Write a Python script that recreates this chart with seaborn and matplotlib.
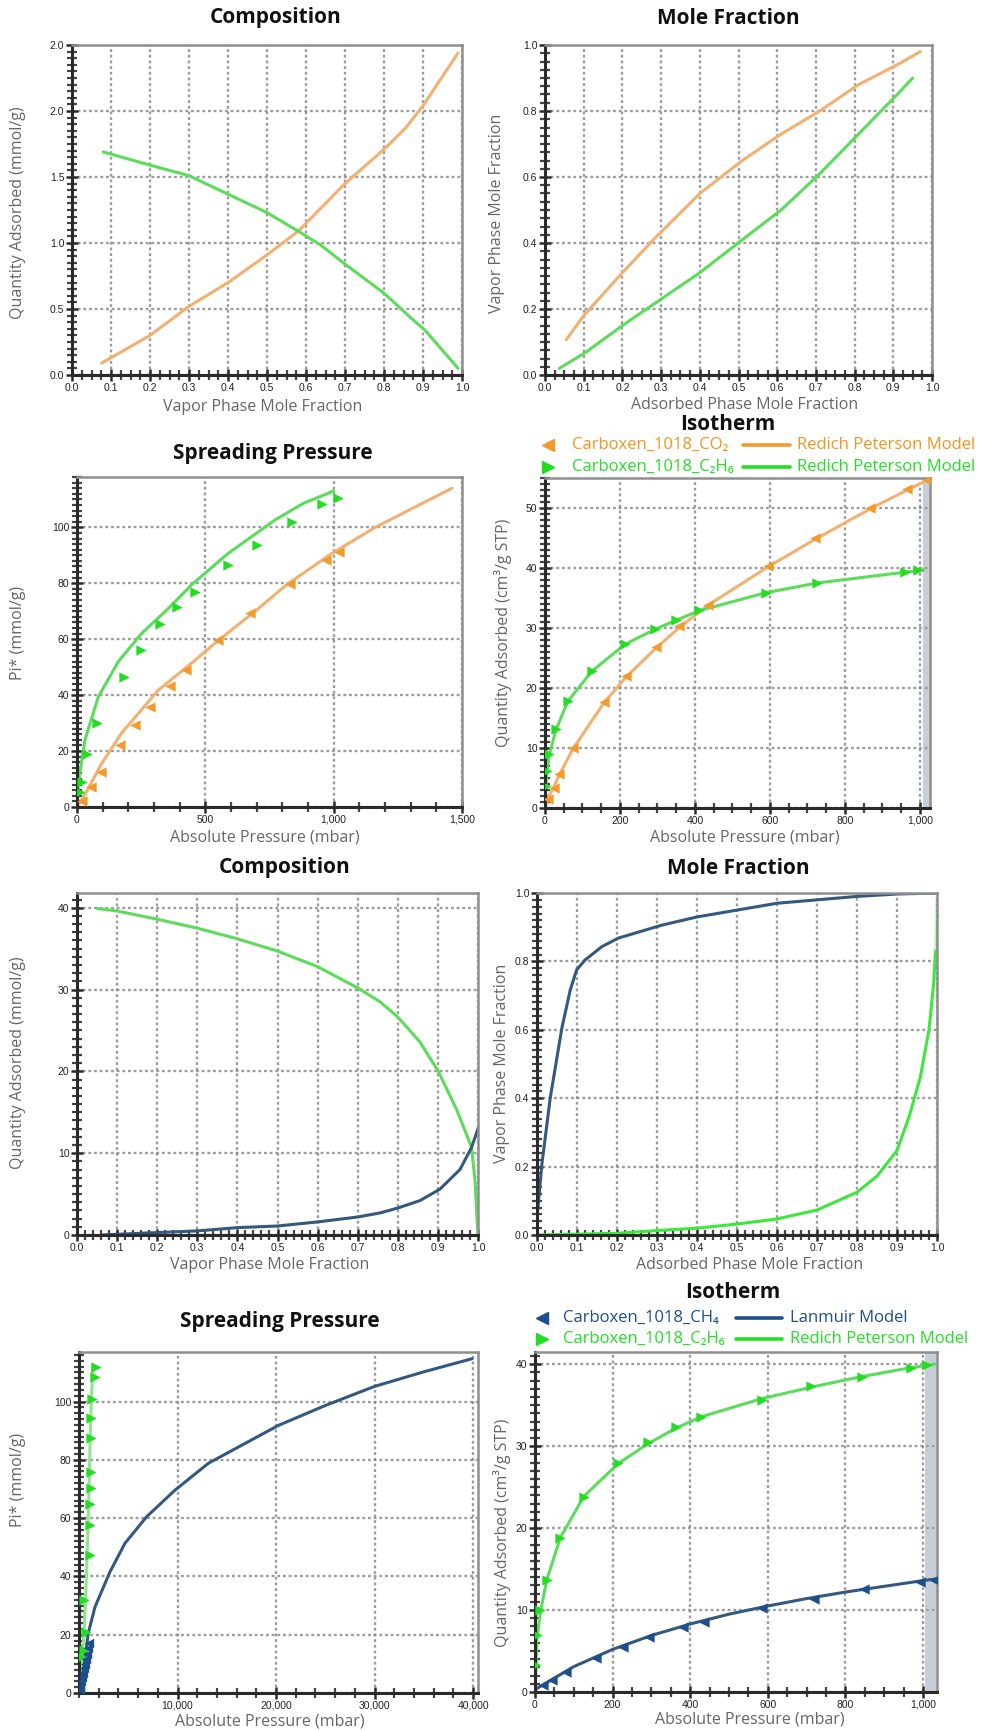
import numpy as np
import matplotlib
matplotlib.use("Agg")
import matplotlib.pyplot as plt
from matplotlib.ticker import AutoMinorLocator, FuncFormatter
import seaborn as sns

# ---- data ----
# panel 1: composition CO2 / C2H6
comp1_x_co2 = [0.076, 0.2, 0.3, 0.4, 0.5, 0.58, 0.64, 0.70, 0.80, 0.855, 0.90, 0.99]
comp1_y_co2 = [0.09, 0.30, 0.52, 0.70, 0.91, 1.09, 1.27, 1.45, 1.71, 1.87, 2.04, 2.44]
comp1_x_c2h6 = [0.08, 0.2, 0.3, 0.4, 0.5, 0.58, 0.64, 0.70, 0.80, 0.87, 0.905, 0.99]
comp1_y_c2h6 = [1.69, 1.59, 1.51, 1.37, 1.23, 1.09, 0.98, 0.84, 0.62, 0.43, 0.34, 0.05]
comp1_yticks = [0, 0.5, 1.0, 1.5, 2.0, 2.5]
comp1_ylabels = ["0.0", "0.5", "1.0", "1.5", "2.0", "2.0"]

# panel 2: mole fraction CO2 / C2H6
mf1_x_co2 = [0.055, 0.10, 0.20, 0.28, 0.40, 0.51, 0.61, 0.71, 0.81, 0.91, 0.97]
mf1_y_co2 = [0.107, 0.18, 0.31, 0.41, 0.55, 0.65, 0.73, 0.80, 0.88, 0.94, 0.98]
mf1_x_c2h6 = [0.037, 0.107, 0.20, 0.30, 0.40, 0.51, 0.61, 0.71, 0.81, 0.91, 0.95]
mf1_y_c2h6 = [0.02, 0.07, 0.15, 0.23, 0.31, 0.41, 0.50, 0.61, 0.73, 0.85, 0.90]

# panel 3: spreading pressure CO2 / C2H6
sp1_pts_x_c2h6 = [10, 21, 39, 78, 183, 251, 325, 388, 460, 589, 702, 836, 953, 1015]
sp1_pts_y_c2h6 = [5.4, 9, 18.8, 29.9, 46.4, 56.2, 65.5, 71.4, 76.8, 86.6, 93.8, 101.8, 108.5, 110.5]
sp1_fit_x_c2h6 = [0, 5, 31, 83, 161, 252, 356, 447, 589, 771, 880, 1000]
sp1_fit_y_c2h6 = [0, 8.5, 24.0, 39.4, 52.0, 62.1, 71.0, 79.5, 90.7, 102.6, 108.5, 113]
sp1_pts_x_co2 = [21, 56, 95, 167, 226, 286, 362, 424, 550, 674, 830, 970, 1022]
sp1_pts_y_co2 = [2, 7.2, 12.5, 22.3, 29.3, 35.8, 43.2, 49, 59.7, 69.5, 79.8, 88.4, 91.2]
sp1_fit_x_co2 = [0, 31, 96, 174, 317, 447, 550, 694, 817, 990, 1162, 1461]
sp1_fit_y_co2 = [0, 4.5, 15.5, 26.5, 41.8, 51.5, 59.5, 70.0, 79.5, 90.5, 100, 114]

# panel 4: isotherm CO2 / C2H6
iso1_pts_x_co2 = [7, 23, 38, 74, 157, 216, 297, 357, 435, 595, 721, 866, 966, 1018]
iso1_pts_y_co2 = [1.5, 3.3, 5.7, 10, 17.7, 22, 26.9, 30.3, 33.8, 40.4, 45, 50, 53.2, 54.6]
iso1_fit_x_co2 = [0, 7, 23, 38, 74, 157, 216, 297, 357, 435, 595, 721, 866, 966, 1025]
iso1_fit_y_co2 = [0, 1.6, 3.4, 5.5, 9.8, 17.5, 21.8, 26.7, 30.0, 33.8, 40.2, 44.8, 49.8, 53.0, 54.8]
iso1_pts_x_c2h6 = [2, 5, 12, 29, 61, 125, 214, 294, 350, 412, 590, 726, 960, 996]
iso1_pts_y_c2h6 = [3.7, 6.2, 9, 13.2, 17.9, 22.8, 27.4, 29.9, 31.4, 33, 35.8, 37.5, 39.3, 39.6]
iso1_fit_x_c2h6 = [0, 2, 5, 12, 29, 61, 125, 214, 294, 350, 412, 590, 726, 960, 1010]
iso1_fit_y_c2h6 = [0, 3.6, 6.0, 9.0, 13.0, 17.8, 22.8, 27.3, 29.8, 31.3, 32.9, 35.9, 37.5, 39.3, 39.7]

# panel 5: composition CH4 / C2H6
comp2_x_c2h6 = [0.05, 0.1, 0.2, 0.3, 0.4, 0.5, 0.6, 0.7, 0.756, 0.801, 0.855, 0.901,
                0.947, 0.984, 0.993, 0.997, 1.0]
comp2_y_c2h6 = [39.9, 39.6, 38.6, 37.5, 36.2, 34.7, 32.8, 30.2, 28.5, 26.6, 23.6, 20.0,
                15.3, 10.7, 6.4, 2.5, 0.1]
comp2_x_ch4 = [0.06, 0.2, 0.3, 0.4, 0.5, 0.6, 0.7, 0.756, 0.8, 0.855, 0.905, 0.955, 0.984, 1.0]
comp2_y_ch4 = [0.0, 0.3, 0.5, 0.9, 1.1, 1.6, 2.2, 2.7, 3.3, 4.2, 5.6, 8.0, 10.7, 13.0]

# panel 6: mole fraction CH4 / C2H6
mf2_x_ch4 = [0.0, 0.012, 0.033, 0.062, 0.083, 0.099, 0.12, 0.162, 0.203, 0.312, 0.4,
             0.5, 0.6, 0.7, 0.8, 0.9, 1.0]
mf2_y_ch4 = [0.05, 0.205, 0.40, 0.604, 0.716, 0.775, 0.804, 0.843, 0.868, 0.906, 0.93,
             0.95, 0.97, 0.98, 0.99, 0.997, 1.0]
mf2_x_c2h6 = [0.0, 0.2, 0.3, 0.4, 0.5, 0.6, 0.7, 0.8, 0.85, 0.9, 0.93, 0.958, 0.98, 0.992, 0.996]
mf2_y_c2h6 = [0.0, 0.005, 0.013, 0.02, 0.032, 0.047, 0.073, 0.125, 0.172, 0.247, 0.345, 0.46, 0.6, 0.74, 0.83]
mf2_tail_x_c2h6 = [0.996, 0.999, 1.0]
mf2_tail_y_c2h6 = [0.83, 0.92, 0.98]

# panel 7: spreading pressure CH4 / C2H6
sp2_fit_x_ch4 = [0, 270, 945, 1620, 3150, 4670, 6870, 9745, 13125, 16510, 20230, 24970,
                 30000, 35000, 39900]
sp2_fit_y_ch4 = [0, 3.4, 20.6, 29.5, 41.6, 51.4, 60.5, 69.6, 78.8, 85, 91.8, 98.6,
                 105.2, 110.2, 114.7]
sp2_pts_x_ch4 = [60, 150, 250, 350, 450, 550, 650, 750, 850, 950, 1050]
sp2_pts_y_ch4 = [1, 2.5, 4, 5.5, 7, 8.5, 10, 11.5, 13.5, 15.5, 17]
sp2_pts_x_c2h6 = [340, 500, 670, 500, 1080, 1080, 1080, 1180, 1180, 1180, 1180, 1350, 1620, 1680]
sp2_pts_y_c2h6 = [12.3, 14.6, 20.9, 31.8, 47.2, 57.8, 64.7, 70.4, 75.7, 87.6, 94.5, 100.9, 108.4, 111.8]
sp2_fit_x_c2h6 = [0, 250, 500, 700, 900, 1050, 1150, 1250, 1400]
sp2_fit_y_c2h6 = [0, 10, 20, 35, 55, 75, 90, 100, 112]

# panel 8: isotherm CH4 / C2H6
iso2_pts_x_c2h6 = [3, 5, 14, 31, 65, 126, 215, 291, 363, 429, 584, 711, 842, 970, 1010]
iso2_pts_y_c2h6 = [3.3, 6.9, 10, 13.7, 18.8, 23.8, 28, 30.5, 32.4, 33.6, 35.7, 37.3, 38.5, 39.6, 39.9]
iso2_fit_x_c2h6 = [0, 3, 5, 14, 31, 65, 126, 215, 291, 363, 429, 584, 711, 842, 970, 1030]
iso2_fit_y_c2h6 = [0, 3.2, 6.5, 9.8, 13.8, 18.8, 23.9, 27.9, 30.3, 32.2, 33.6, 35.8, 37.2, 38.5, 39.6, 40.0]
iso2_pts_x_ch4 = [20, 43, 80, 158, 226, 295, 382, 436, 584, 718, 847, 993, 1028]
iso2_pts_y_ch4 = [0.8, 1.5, 2.5, 4.2, 5.5, 6.7, 7.9, 8.6, 10.2, 11.4, 12.6, 13.4, 13.7]
iso2_fit_x_ch4 = [0, 100, 200, 300, 400, 500, 600, 700, 800, 900, 1000, 1034]
iso2_fit_y_ch4 = [0.3, 3.1, 5.2, 6.9, 8.3, 9.5, 10.5, 11.4, 12.2, 12.9, 13.6, 13.8]

# ---- style ----
ORANGE_LINE = "#f2b071"
ORANGE_PT = "#f39a2c"
ORANGE_TXT = "#f7941d"
GREEN_LINE = "#5bdc5b"
GREEN_PT = "#22dd22"
GREEN_TXT = "#22e022"
BLUE_LINE = "#34597f"
BLUE_PT = "#1f4e8c"
BLUE_TXT = "#1f4e8c"

sns.set_theme(style="white")
plt.rcParams["font.family"] = ["Open Sans", "DejaVu Sans"]

W, H = 990, 1730
fig = plt.figure(figsize=(W / 100, H / 100), dpi=100)


def rect(l, r, t, b):
    return [l / W, 1 - b / H, (r - l) / W, (b - t) / H]


def ftext(x, y, s, **kw):
    fig.text(x / W, 1 - y / H, s, **kw)


def base_axes(l, r, t, b, xlim, ylim, xticks, yticks, xminor=5, yminor=5):
    ax = fig.add_axes(rect(l, r, t, b))
    ax.set_xlim(*xlim)
    ax.set_ylim(*ylim)
    ax.set_xticks(xticks)
    ax.set_yticks(yticks)
    ax.xaxis.set_minor_locator(AutoMinorLocator(xminor))
    ax.yaxis.set_minor_locator(AutoMinorLocator(yminor))
    ax.grid(True, which="major", color="#858585", linestyle=(0, (1.2, 1.2)),
            linewidth=1.7, alpha=0.8)
    ax.set_axisbelow(True)
    for s in ["left", "bottom"]:
        ax.spines[s].set_color("#2a2a2a")
        ax.spines[s].set_linewidth(2.2)
    for s in ["top", "right"]:
        ax.spines[s].set_color("#8f8f8f")
        ax.spines[s].set_linewidth(1.8)
    ax.tick_params(which="both", left=True, bottom=True, top=False, right=False)
    ax.tick_params(which="major", direction="inout", length=9, width=1.8,
                   color="#2a2a2a", pad=1, labelsize=7.5, labelcolor="#222")
    ax.tick_params(which="minor", direction="inout", length=7, width=1.6,
                   color="#444444")
    for lab in ax.get_xticklabels() + ax.get_yticklabels():
        lab.set_fontfamily(["Liberation Sans", "DejaVu Sans"])
    return ax


def labels(title, tpos, xlabel, xpos, ylabel, ypos):
    ftext(tpos[0], tpos[1], title, ha="center", va="center", fontsize=15,
          fontweight="bold", color="#111")
    ftext(xpos[0], xpos[1], xlabel, ha="center", va="center", fontsize=11.5,
          color="#666")
    ftext(ypos[0], ypos[1], ylabel, ha="center", va="center", fontsize=11.5,
          color="#666", rotation=90)


def curve(ax, x, y, color, lw=2.2, alpha=1.0):
    sns.lineplot(x=x, y=y, ax=ax, color=color, linewidth=lw, sort=False,
                 estimator=None, alpha=alpha, legend=False,
                 solid_joinstyle="round", solid_capstyle="round")


def points(ax, x, y, color, marker, size=55):
    sns.scatterplot(x=x, y=y, ax=ax, color=color, marker=marker, s=size,
                    linewidth=0, legend=False, zorder=5)


def legend_rows(rows):
    # manual two-column legend: marker + name, line + model name
    for (y, marker, mcolor, name, lcolor, model, tcolor, mx, tx, l0, l1, mtx) in rows:
        fig.add_artist(plt.Line2D([mx / W], [1 - y / H], marker=marker, color=mcolor,
                                  markersize=9, linestyle="none"))
        ftext(tx, y, name, ha="left", va="center", fontsize=12, color=tcolor)
        fig.add_artist(plt.Line2D([l0 / W, l1 / W], [1 - y / H, 1 - y / H],
                                  color=lcolor, linewidth=2.6))
        ftext(mtx, y, model, ha="left", va="center", fontsize=12, color=tcolor)


comma = FuncFormatter(lambda v, p: f"{int(v):,}")
frac = FuncFormatter(lambda v, p: f"{v:.1f}")

# ---- panel 1 ----
ax1 = base_axes(72, 462, 45, 375, (0, 1), (0, 2.5), np.arange(0, 1.01, 0.1),
                comp1_yticks, xminor=4, yminor=10)
ax1.set_yticklabels(comp1_ylabels)
ax1.xaxis.set_major_formatter(frac)
curve(ax1, comp1_x_co2, comp1_y_co2, ORANGE_LINE)
curve(ax1, comp1_x_c2h6, comp1_y_c2h6, GREEN_LINE)
labels("Composition", (276, 18), "Vapor Phase Mole Fraction", (263, 407),
       "Quantity Adsorbed (mmol/g)", (18, 213))

# ---- panel 2 ----
ax2 = base_axes(545, 932, 45, 375, (0, 1), (0, 1), np.arange(0, 1.01, 0.1),
                np.arange(0, 1.01, 0.2), xminor=4, yminor=8)
ax2.xaxis.set_major_formatter(frac)
ax2.yaxis.set_major_formatter(frac)
curve(ax2, mf1_x_co2, mf1_y_co2, ORANGE_LINE)
curve(ax2, mf1_x_c2h6, mf1_y_c2h6, GREEN_LINE)
labels("Mole Fraction", (728, 18), "Adsorbed Phase Mole Fraction", (745, 405),
       "Vapor Phase Mole Fraction", (497, 213))

# ---- panel 3 ----
ax3 = base_axes(77, 462, 477, 807, (0, 1500), (0, 118), [0, 500, 1000, 1500],
                [0, 20, 40, 60, 80, 100], xminor=5, yminor=10)
ax3.xaxis.set_major_formatter(comma)
curve(ax3, sp1_fit_x_c2h6, sp1_fit_y_c2h6, GREEN_LINE)
curve(ax3, sp1_fit_x_co2, sp1_fit_y_co2, ORANGE_LINE)
points(ax3, sp1_pts_x_c2h6, sp1_pts_y_c2h6, GREEN_PT, ">")
points(ax3, sp1_pts_x_co2, sp1_pts_y_co2, ORANGE_PT, "<")
labels("Spreading Pressure", (273, 453), "Absolute Pressure (mbar)", (265, 838),
       "Pi* (mmol/g)", (18, 633))

# ---- panel 4 ----
ax4 = base_axes(545, 930, 478, 808, (0, 1027), (0, 55), np.arange(0, 1001, 200),
                [0, 10, 20, 30, 40, 50], xminor=4, yminor=10)
ax4.xaxis.set_major_formatter(comma)
ax4.axvspan(1009, 1027, color="#9ba6b6", alpha=0.55, lw=0)
curve(ax4, iso1_fit_x_co2, iso1_fit_y_co2, ORANGE_LINE)
curve(ax4, iso1_fit_x_c2h6, iso1_fit_y_c2h6, GREEN_LINE)
points(ax4, iso1_pts_x_co2, iso1_pts_y_co2, ORANGE_PT, "<")
points(ax4, iso1_pts_x_c2h6, iso1_pts_y_c2h6, GREEN_PT, ">")
labels("Isotherm", (728, 425), "Absolute Pressure (mbar)", (745, 838),
       "Quantity Adsorbed (cm³/g STP)", (503, 633))
legend_rows([
    (445, "<", ORANGE_PT, "Carboxen_1018_CO₂", ORANGE_PT, "Redich Peterson Model",
     ORANGE_TXT, 548, 572, 743, 790, 797),
    (467, ">", GREEN_PT, "Carboxen_1018_C₂H₆", "#22e022", "Redich Peterson Model",
     GREEN_TXT, 548, 572, 743, 790, 797),
])

# ---- panel 5 ----
ax5 = base_axes(77, 478, 893, 1235, (0, 1), (0, 41.8), np.arange(0, 1.01, 0.1),
                [0, 10, 20, 30, 40], xminor=5, yminor=10)
ax5.xaxis.set_major_formatter(frac)
curve(ax5, comp2_x_c2h6, comp2_y_c2h6, GREEN_LINE)
curve(ax5, comp2_x_ch4, comp2_y_ch4, BLUE_LINE)
labels("Composition", (285, 868), "Vapor Phase Mole Fraction", (270, 1265),
       "Quantity Adsorbed (mmol/g)", (18, 1063))

# ---- panel 6 ----
ax6 = base_axes(537, 937, 893, 1235, (0, 1), (0, 1), np.arange(0, 1.01, 0.1),
                np.arange(0, 1.01, 0.2), xminor=5, yminor=10)
ax6.xaxis.set_major_formatter(frac)
ax6.yaxis.set_major_formatter(frac)
curve(ax6, mf2_x_ch4, mf2_y_ch4, BLUE_LINE)
curve(ax6, mf2_x_c2h6, mf2_y_c2h6, "#3de83d")
curve(ax6, mf2_tail_x_c2h6, mf2_tail_y_c2h6, "#3de83d", alpha=0.3)
labels("Mole Fraction", (738, 868), "Adsorbed Phase Mole Fraction", (750, 1265),
       "Vapor Phase Mole Fraction", (502, 1063))

# ---- panel 7 ----
ax7 = base_axes(79, 478, 1352, 1693, (0, 40500), (0, 117), [10000, 20000, 30000, 40000],
                [0, 20, 40, 60, 80, 100], xminor=5, yminor=10)
ax7.xaxis.set_major_formatter(comma)
curve(ax7, sp2_fit_x_c2h6, sp2_fit_y_c2h6, "#8fe68f")
points(ax7, sp2_pts_x_c2h6, sp2_pts_y_c2h6, GREEN_PT, ">")
curve(ax7, sp2_fit_x_ch4, sp2_fit_y_ch4, BLUE_LINE)
points(ax7, sp2_pts_x_ch4, sp2_pts_y_ch4, BLUE_PT, "<", size=45)
ax7.text(0.012, 0.065, "0", transform=ax7.transAxes, fontsize=7.5,
         family=["Liberation Sans", "DejaVu Sans"], color="#222")
labels("Spreading Pressure", (280, 1322), "Absolute Pressure (mbar)", (270, 1722),
       "Pi* (mmol/g)", (18, 1480))

# ---- panel 8 ----
ax8 = base_axes(535, 937, 1352, 1692, (0, 1036), (0, 41.5), np.arange(0, 1001, 200),
                [0, 10, 20, 30, 40], xminor=4, yminor=10)
ax8.xaxis.set_major_formatter(comma)
ax8.axvspan(1006, 1036, color="#9ba6b6", alpha=0.55, lw=0)
curve(ax8, iso2_fit_x_c2h6, iso2_fit_y_c2h6, GREEN_LINE)
curve(ax8, iso2_fit_x_ch4, iso2_fit_y_ch4, BLUE_LINE)
points(ax8, iso2_pts_x_c2h6, iso2_pts_y_c2h6, GREEN_PT, ">")
points(ax8, iso2_pts_x_ch4, iso2_pts_y_ch4, BLUE_PT, "<")
labels("Isotherm", (733, 1293), "Absolute Pressure (mbar)", (750, 1720),
       "Quantity Adsorbed (cm³/g STP)", (502, 1533))
legend_rows([
    (1318, "<", BLUE_PT, "Carboxen_1018_CH₄", BLUE_PT, "Lanmuir Model",
     BLUE_TXT, 542, 563, 736, 782, 790),
    (1339, ">", GREEN_PT, "Carboxen_1018_C₂H₆", "#22e022", "Redich Peterson Model",
     GREEN_TXT, 542, 563, 736, 782, 790),
])

fig.savefig("out.png", dpi=100, facecolor="white")
